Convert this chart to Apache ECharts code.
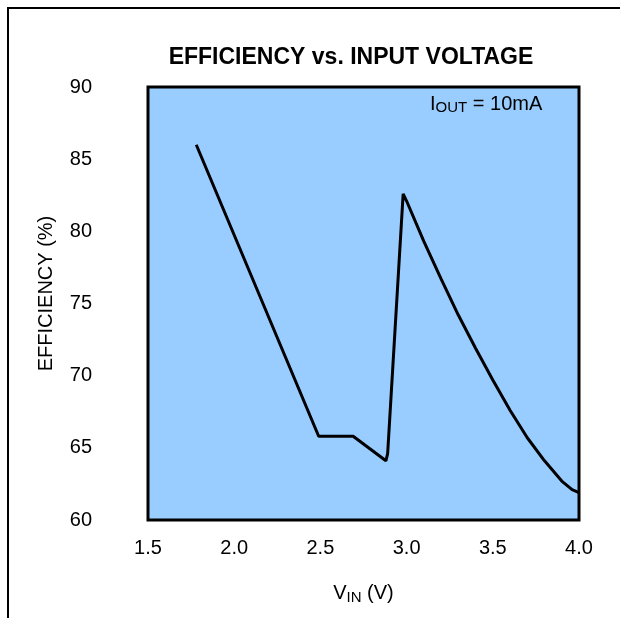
<!DOCTYPE html>
<html>
<head>
<meta charset="utf-8">
<script src="https://cdn.jsdelivr.net/npm/echarts@6/dist/echarts.min.js"></script>
<style>
  html, body { margin: 0; padding: 0; background: #fff; }
  #chart { width: 620px; height: 618px; }
</style>
</head>
<body>
<div id="chart"></div>
<script>
// input voltage (V) and efficiency (%)
const vin = [1.78, 2.49, 2.69, 2.88, 2.89, 2.98, 3.0, 3.1, 3.2, 3.3, 3.4, 3.5, 3.6, 3.7, 3.8, 3.9, 3.96, 4.0]
const eff = [86.0, 65.8, 65.8, 64.1, 64.6, 82.6, 82.1, 79.3, 76.7, 74.2, 71.9, 69.7, 67.6, 65.7, 64.1, 62.7, 62.1, 61.9]

const xTicks = [1.5, 4.0, 0.5] // min, max, step
const yTicks = [60, 90, 5]

const font = "'Liberation Sans', Arial, sans-serif"

const chart = echarts.init(document.getElementById("chart"))

chart.setOption({
  animation: false,
  textStyle: { fontFamily: font, color: "#000" },
  grid: {
    show: true,
    left: 148,
    right: 41,
    top: 87,
    bottom: 98,
    backgroundColor: "#99ccff",
    borderColor: "#000",
    borderWidth: 3,
  },
  graphic: [
    {
      type: "rect",
      shape: { x: 8, y: 8, width: 700, height: 700 },
      style: { fill: "none", stroke: "#000", lineWidth: 2 },
      silent: true,
    },
    {
      type: "text",
      style: {
        x: 351,
        y: 58,
        text: "EFFICIENCY vs. INPUT VOLTAGE",
        textAlign: "center",
        textVerticalAlign: "middle",
        font: "bold 23px " + font,
        fill: "#000",
      },
    },
    {
      type: "text",
      z: 10,
      style: {
        x: 430,
        y: 104,
        textVerticalAlign: "middle",
        text: "{a|I}{b|OUT}{a| = 10mA}",
        rich: {
          a: { fontSize: 20, fontFamily: font, color: "#000" },
          b: { fontSize: 15, fontFamily: font, color: "#000", padding: [8, 0, 0, 0] },
        },
      },
    },
  ],
  xAxis: {
    type: "value",
    min: xTicks[0],
    max: xTicks[1],
    interval: xTicks[2],
    name: "{a|V}{b|IN}{a| (V)}",
    nameLocation: "middle",
    nameGap: 62,
    nameTextStyle: {
      rich: {
        a: { fontSize: 20, fontFamily: font, color: "#000" },
        b: { fontSize: 15, fontFamily: font, color: "#000", padding: [8, 0, 0, 0] },
      },
    },
    axisLine: { show: false },
    axisTick: { show: false },
    splitLine: { show: false },
    axisLabel: {
      fontSize: 20,
      color: "#000",
      margin: 18,
      formatter: (v) => v.toFixed(1),
    },
  },
  yAxis: {
    type: "value",
    min: yTicks[0],
    max: yTicks[1],
    interval: yTicks[2],
    name: "EFFICIENCY (%)",
    nameLocation: "middle",
    nameGap: 92,
    nameRotate: 90,
    nameTextStyle: { fontSize: 20, color: "#000", padding: [0, 0, 0, 20] },
    axisLine: { show: false },
    axisTick: { show: false },
    splitLine: { show: false },
    axisLabel: { fontSize: 20, color: "#000", margin: 56 },
  },
  series: [
    {
      type: "line",
      data: vin.map((v, i) => [v, eff[i]]),
      showSymbol: false,
      lineStyle: { color: "#000", width: 3 },
    },
  ],
})
</script>
</body>
</html>
